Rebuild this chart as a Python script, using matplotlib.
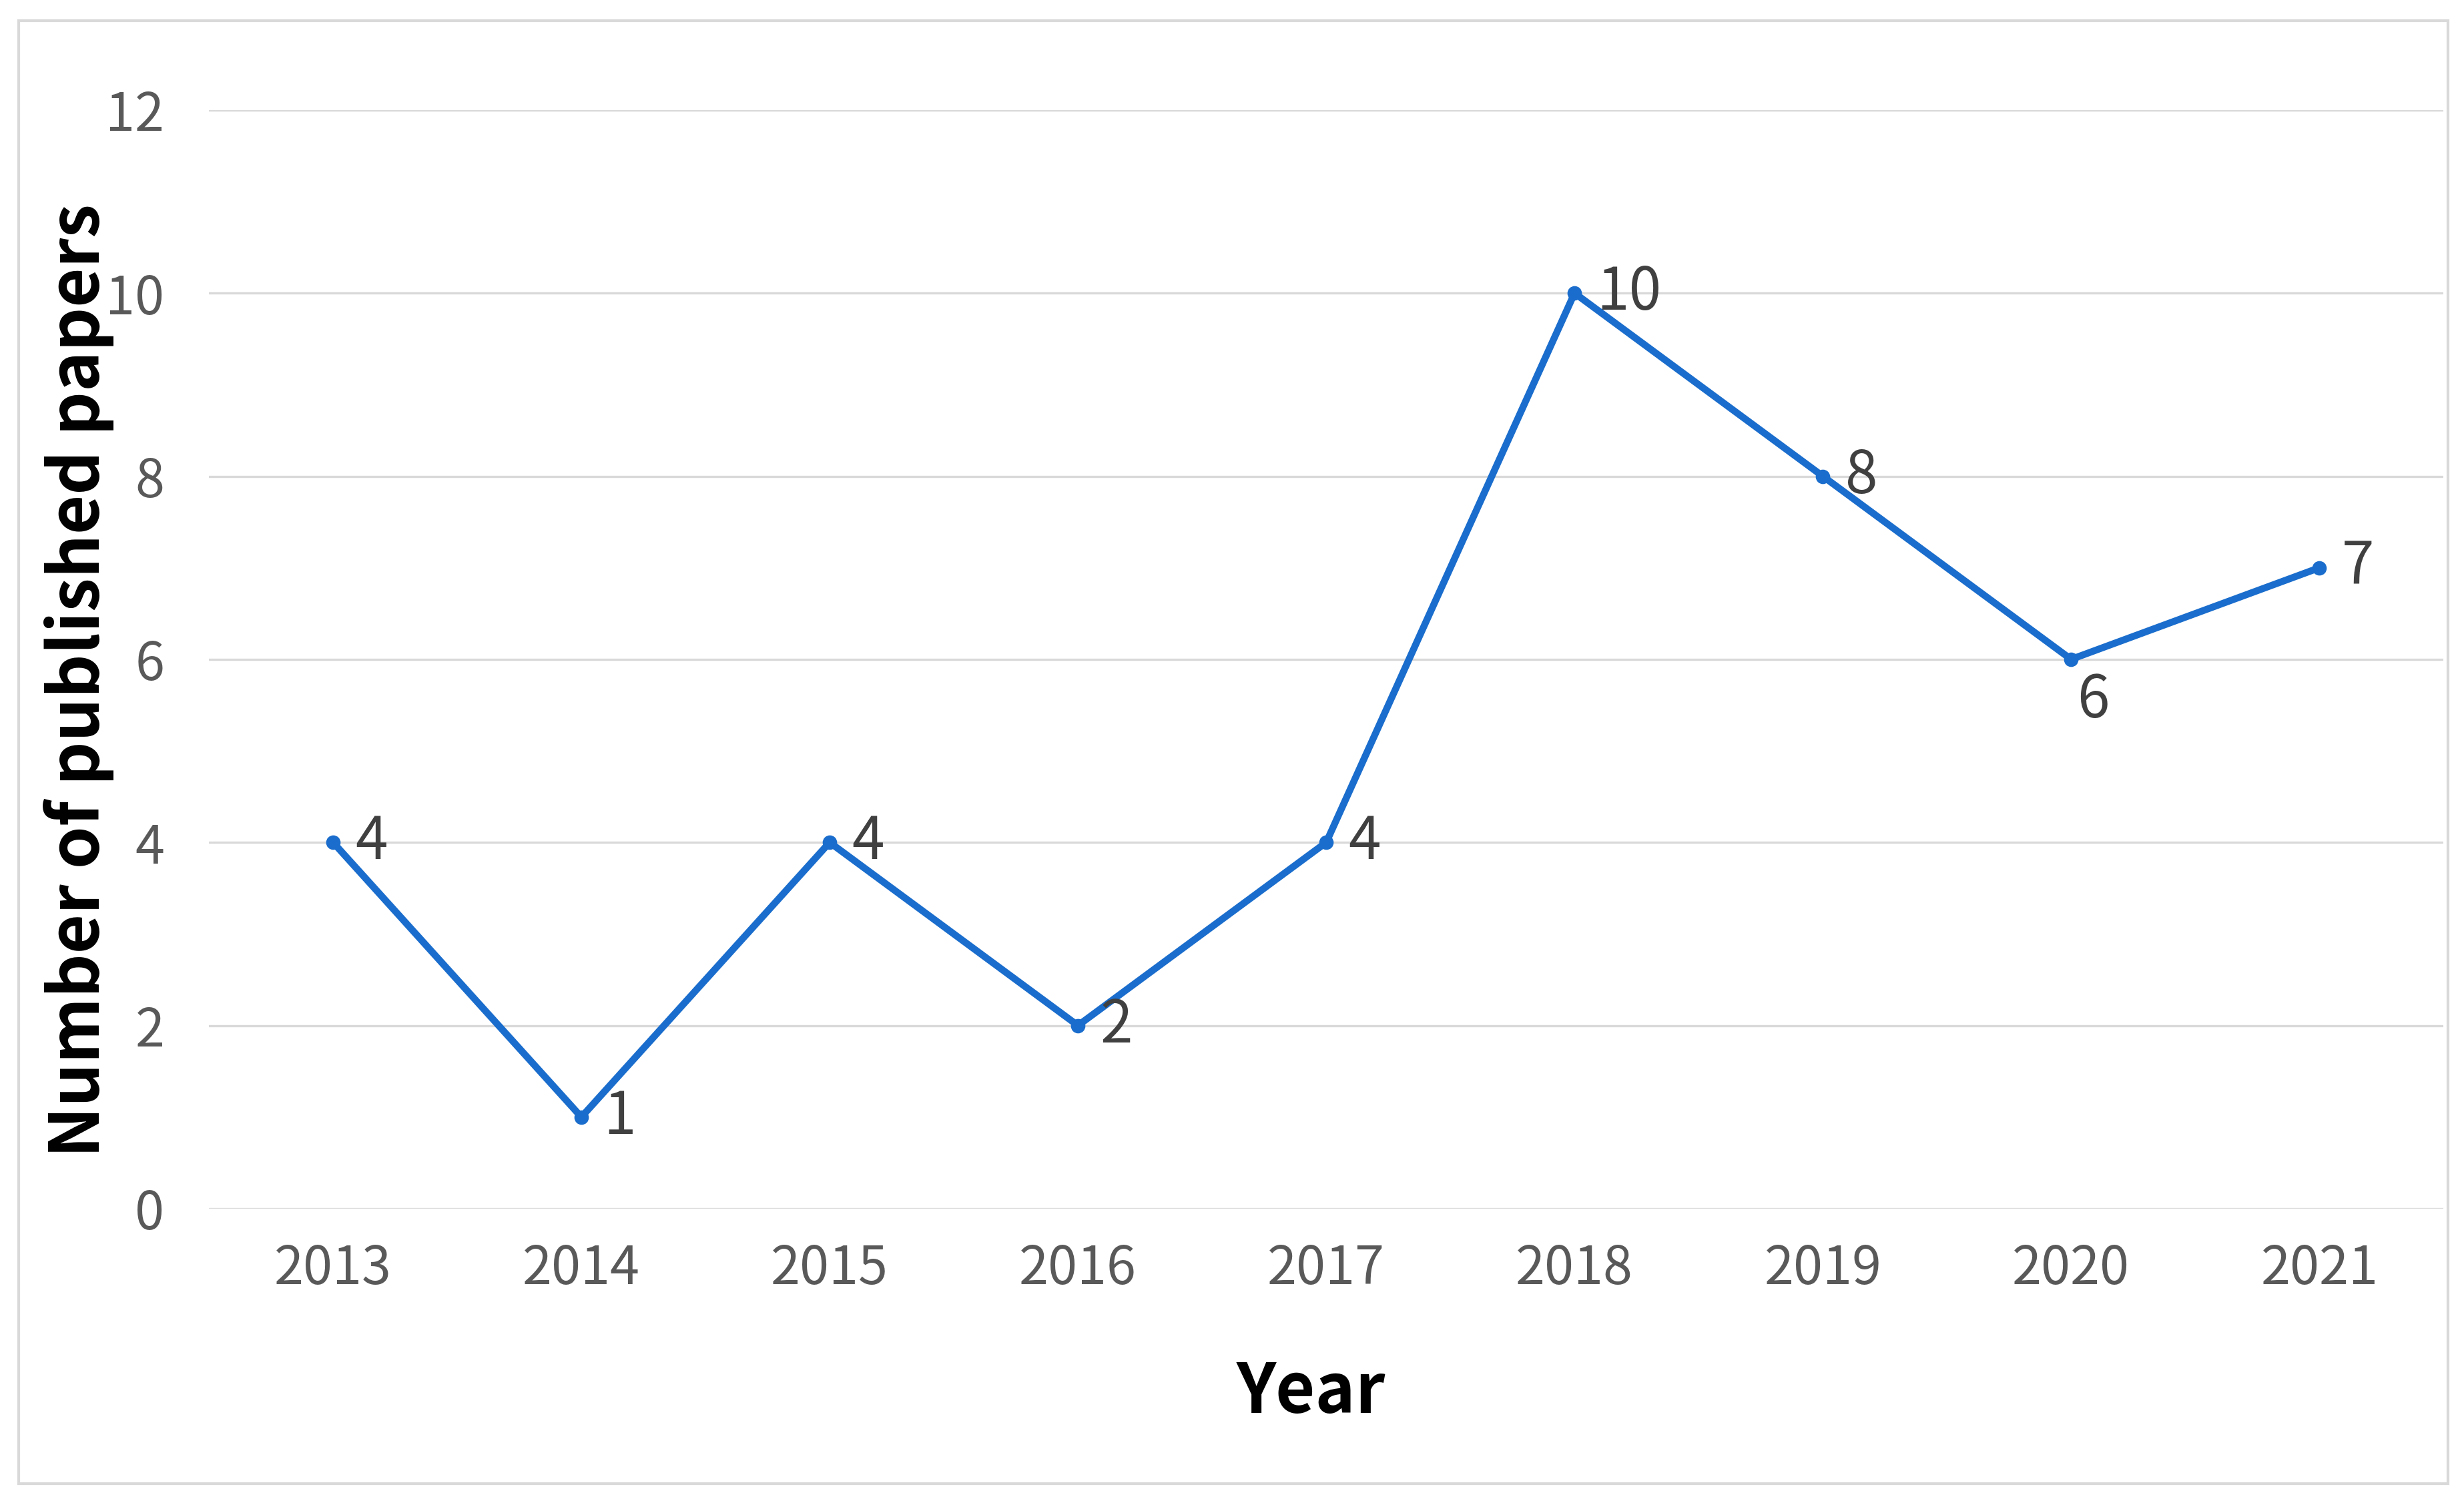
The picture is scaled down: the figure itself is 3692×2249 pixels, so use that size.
import matplotlib
matplotlib.use("Agg")
import matplotlib.pyplot as plt
from matplotlib.patches import Rectangle

# data
years = ["2013", "2014", "2015", "2016", "2017", "2018", "2019", "2020", "2021"]
papers = [4, 1, 4, 2, 4, 10, 8, 6, 7]
# where each value label sits relative to its point: 'right' or 'below'
label_pos = ["right", "right", "right", "right", "right", "right", "right", "below", "right"]

plt.rcParams['font.family'] = ['Noto Sans CJK SC', 'DejaVu Sans']

fig = plt.figure(figsize=(3692 / 300, 2249 / 300), dpi=300)
ax = fig.add_axes([0.0848, 0.1948, 0.9069, 0.7319])

x = list(range(len(years)))
ax.plot(x, papers, color='#1a6dcc', linewidth=2.5, marker='o', markersize=4.2, zorder=3)

for xi, v, pos in zip(x, papers, label_pos):
    if pos == "below":
        ax.annotate(str(v), (xi, v), xytext=(8, -15), textcoords='offset points',
                    ha='center', va='center', fontsize=21, color='#404040', fontweight='light')
    else:
        ax.annotate(str(v), (xi, v), xytext=(8, 0), textcoords='offset points',
                    ha='left', va='center', fontsize=21, color='#404040', fontweight='light')

ax.set_xlim(-0.5, len(years) - 0.5)
ax.set_ylim(0, 12)
ax.set_yticks(range(0, 13, 2))
ax.set_xticks(x)
ax.set_xticklabels(years)
ax.grid(axis='y', color='#d9d9d9', linewidth=0.8)
ax.set_axisbelow(True)
for s in ax.spines.values():
    s.set_visible(False)
ax.tick_params(axis='both', length=0, labelsize=19, labelcolor='#595959')
ax.tick_params(axis='y', pad=16)
ax.tick_params(axis='x', pad=12)
for lab in ax.get_xticklabels() + ax.get_yticklabels():
    lab.set_fontweight('light')

# axis titles
fig.text(0.0319, 0.5466, "Number of published papers", rotation=90, ha='center', va='center',
         fontsize=24.5, fontweight='bold', color='black')
fig.text(0.532, 0.0723, "Year", ha='center', va='center',
         fontsize=24.5, fontweight='bold', color='black')

# outer chart border
fig.patches.append(Rectangle((0.00765, 0.0115), 0.98597, 0.97489, transform=fig.transFigure,
                             fill=False, edgecolor='#d9d9d9', linewidth=1.0))

fig.savefig("out.png", dpi=300)
